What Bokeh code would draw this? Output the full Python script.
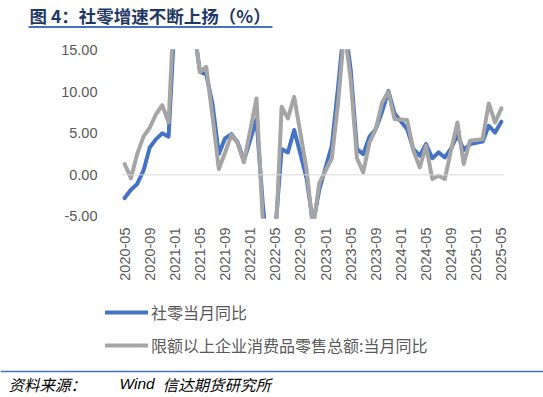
import math
from bokeh.plotting import figure
from bokeh.layouts import column
from bokeh.models import (Range1d, FixedTicker, NumeralTickFormatter, Span, Legend,
                          LegendItem)
from bokeh.core.properties import value
from bokeh.embed import file_html
from bokeh.resources import INLINE

# ---- data -------------------------------------------------------------
months = []
for yr in range(2020, 2026):
    for mo in range(1, 13):
        if (2020, 5) <= (yr, mo) <= (2025, 5):
            months.append(f"{yr}-{mo:02d}")

# 社零当月同比 (January not published -> None)
retail_yoy = [
    -2.8, -1.8, -1.1, 0.5, 3.3, 4.3, 5.0, 4.6,
    None, 33.8, 34.2, 17.7, 12.4, 12.1, 8.5, 2.5, 4.4, 4.9, 3.9, 1.7,
    None, 6.7, -3.5, -11.1, -6.7, 3.1, 2.7, 5.4, 2.5, -0.5, -5.9, -1.8,
    None, 3.5, 10.6, 18.4, 12.7, 3.1, 2.5, 4.6, 5.5, 7.6, 10.1, 7.4,
    None, 5.5, 3.1, 2.3, 3.7, 2.0, 2.7, 2.1, 3.2, 4.8, 3.0, 3.7,
    None, 4.0, 5.9, 5.1, 6.4,
]

# 限额以上企业消费品零售总额:当月同比
above_quota_yoy = [
    1.3, -0.4, 2.5, 4.6, 5.7, 7.3, 8.4, 6.3,
    None, 38.0, 37.0, 18.0, 12.4, 13.0, 7.0, 0.7, 2.7, 4.8, 3.8, 1.5,
    None, 9.2, -5.5, -17.0, -9.0, 8.2, 6.8, 9.4, 5.0, 0.5, -6.5, -1.0,
    None, 2.0, 8.7, 17.5, 11.5, 2.0, 0.3, 3.9, 5.5, 8.7, 10.0, 6.7,
    None, 6.6, 2.9, 0.9, 3.5, -0.5, -0.1, -0.5, 3.0, 6.3, 1.3, 4.1,
    None, 4.3, 8.6, 6.3, 8.0,
]

series_names = ["社零当月同比", "限额以上企业消费品零售总额:当月同比"]
series_colors = ["#4472C4", "#A5A5A5"]
y_ticks = [-5, 0, 5, 10, 15]
x_tick_step = 4

title_text = "图 4：社零增速不断上扬（%）"
source_label = "资料来源："
source_wind = "Wind"
source_org = "信达期货研究所"

CJK = "Noto Sans CJK SC"
W = 543
H_HEAD, H_MAIN, H_FOOT = 40, 260, 97


def blank_fig(h):
    f = figure(width=W, height=h, output_backend="svg", toolbar_location=None,
               x_range=Range1d(0, W), y_range=Range1d(h, 0),
               x_axis_location=None, y_axis_location=None, frame_align=False,
               min_border_left=0, min_border_right=0, min_border_top=0, min_border_bottom=0)
    f.outline_line_color = None
    f.background_fill_color = "white"
    f.border_fill_color = "white"
    f.grid.visible = False
    return f


# ---- header -------------------------------------------------------------
head = blank_fig(H_HEAD)
head.text(x=[29], y=[15], text=[title_text], text_font=value(CJK), text_font_size="17.5px",
          text_font_style="bold", text_color="#1F3864", text_baseline="middle", text_align="left")
head.segment(x0=[28], y0=[26.5], x1=[272], y1=[26.5], line_color="#4472C4", line_width=2)

# ---- main chart ---------------------------------------------------------
L, R, T, B = 121, 39, 9, 82
p = figure(width=W, height=H_MAIN, output_backend="svg", toolbar_location=None,
           x_range=Range1d(-0.5, len(months) - 0.5), y_range=Range1d(-5.26, 15.1),
           frame_align=False,
           min_border_left=L, min_border_right=R, min_border_top=T, min_border_bottom=B)
p.outline_line_color = None
p.xgrid.visible = False
p.ygrid.visible = False
p.background_fill_color = "white"
p.border_fill_color = "white"

p.add_layout(Span(location=0, dimension="width", line_color="#D9D9D9", line_width=1))


def pts(vals):
    xs = [i for i, v in enumerate(vals) if v is not None]
    ys = [v for v in vals if v is not None]
    return xs, ys


xb, yb = pts(retail_yoy)
xg, yg = pts(above_quota_yoy)
p.line(xb, yb, line_color=series_colors[0], line_width=4, line_join="round", line_cap="round")
p.line(xg, yg, line_color=series_colors[1], line_width=4, line_join="round", line_cap="round")

yax = p.yaxis[0]
yax.ticker = FixedTicker(ticks=y_ticks)
yax.formatter = NumeralTickFormatter(format="0.00")
yax.axis_line_color = None
yax.major_tick_line_color = None
yax.minor_tick_line_color = None
yax.major_tick_out = 0
yax.major_label_standoff = 24
yax.major_label_text_font = "Liberation Sans"
yax.major_label_text_font_size = "14.5px"
yax.major_label_text_color = "#595959"

xax = p.xaxis[0]
ticks = list(range(0, len(months), x_tick_step))
xax.ticker = FixedTicker(ticks=ticks)
xax.major_label_overrides = {i: months[i] for i in ticks}
xax.major_label_orientation = math.pi / 2
xax.axis_line_color = None
xax.major_tick_line_color = None
xax.minor_tick_line_color = None
xax.major_tick_out = 0
xax.major_label_standoff = 9
xax.major_label_text_font = "Liberation Sans"
xax.major_label_text_font_size = "14.5px"
xax.major_label_text_color = "#595959"

# ---- legend + source ----------------------------------------------------
foot = blank_fig(H_FOOT)
nan = float("nan")
lr1 = foot.line(x=[nan, nan], y=[nan, nan], line_color=series_colors[0], line_width=4,
                line_cap="round")
lr2 = foot.line(x=[nan, nan], y=[nan, nan], line_color=series_colors[1], line_width=4,
                line_cap="round")
legend = Legend(items=[LegendItem(label=series_names[0], renderers=[lr1]),
                       LegendItem(label=series_names[1], renderers=[lr2])],
                location=(105, H_FOOT - 57), orientation="vertical",
                glyph_width=43, glyph_height=20, label_height=20, label_standoff=3,
                spacing=9, padding=0, margin=0, border_line_color=None,
                background_fill_alpha=0,
                label_text_font=CJK, label_text_font_size="16px",
                label_text_color="#595959")
foot.add_layout(legend)
foot.segment(x0=[0], y0=[71], x1=[W], y1=[71], line_color="#4472C4", line_width=1.5)
for txt, cx, fnt in [(source_label, 8, CJK), (source_wind, 119, "Liberation Sans"),
                     (source_org, 162, CJK)]:
    foot.text(x=[cx], y=[83], text=[txt], text_font=value(fnt), text_font_size="15.5px",
              text_font_style="italic", text_color="#000000", text_baseline="middle",
              text_align="left")

layout = column(head, p, foot, spacing=0)
open("out.html", "w").write(file_html(layout, INLINE))
